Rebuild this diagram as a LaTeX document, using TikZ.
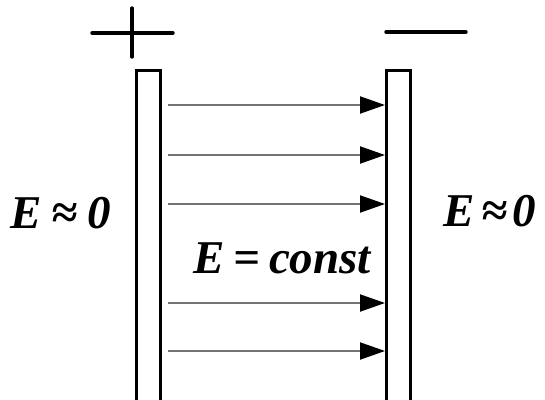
\documentclass[tikz,border=0pt]{standalone}
\usepackage{fontspec}
\setmainfont{Liberation Serif}
\usetikzlibrary{arrows.meta}
\begin{document}
\begin{tikzpicture}[x=1pt,y=-1pt,
  plate/.style={draw=black,line width=3.2pt,fill=white,minimum width=24pt,minimum height=360pt,inner sep=0pt,anchor=north west},
  sign/.style={draw=black,line width=3.4pt,line cap=round},
  field/.style={draw=black!55,line width=2pt,-{Triangle[length=25pt,width=17pt,fill=black,color=black]}},
  lbl/.style={font=\fontsize{47}{52}\selectfont\bfseries\itshape,inner sep=0pt}]
\useasboundingbox (0,0) rectangle (545,399);
\clip (0,0) rectangle (545,399);
\node[plate] (lp) at (135,69) {};
\node[plate] (rp) at (385,69) {};
% plus sign
\coordinate (p1) at (92,33);
\coordinate (p2) at (173,33);
\coordinate (p3) at (132,8);
\coordinate (p4) at (132,57);
\draw[sign] (p1) -- (p2);
\draw[sign] (p3) -- (p4);
% minus sign
\coordinate (m1) at (386,32);
\coordinate (m2) at (466,32);
\draw[sign] (m1) -- (m2);
% field arrows
\foreach \i/\yy in {a/105,b/155,c/204,d/303,e/351}{
  \coordinate (s\i) at (168,\yy);
  \draw[field] (s\i) -- (s\i -| rp.west);
}
% labels
\node[lbl] (l1) at (61,213) {E\hspace{10pt}≈\hspace{10pt}0};
\node[lbl] (l2) at (490,211) {E\hspace{6pt}≈\hspace{6pt}0};
\node[lbl] (l3) at (282,258) {E\hspace{9pt}=\hspace{9pt}const};
\end{tikzpicture}
\end{document}
